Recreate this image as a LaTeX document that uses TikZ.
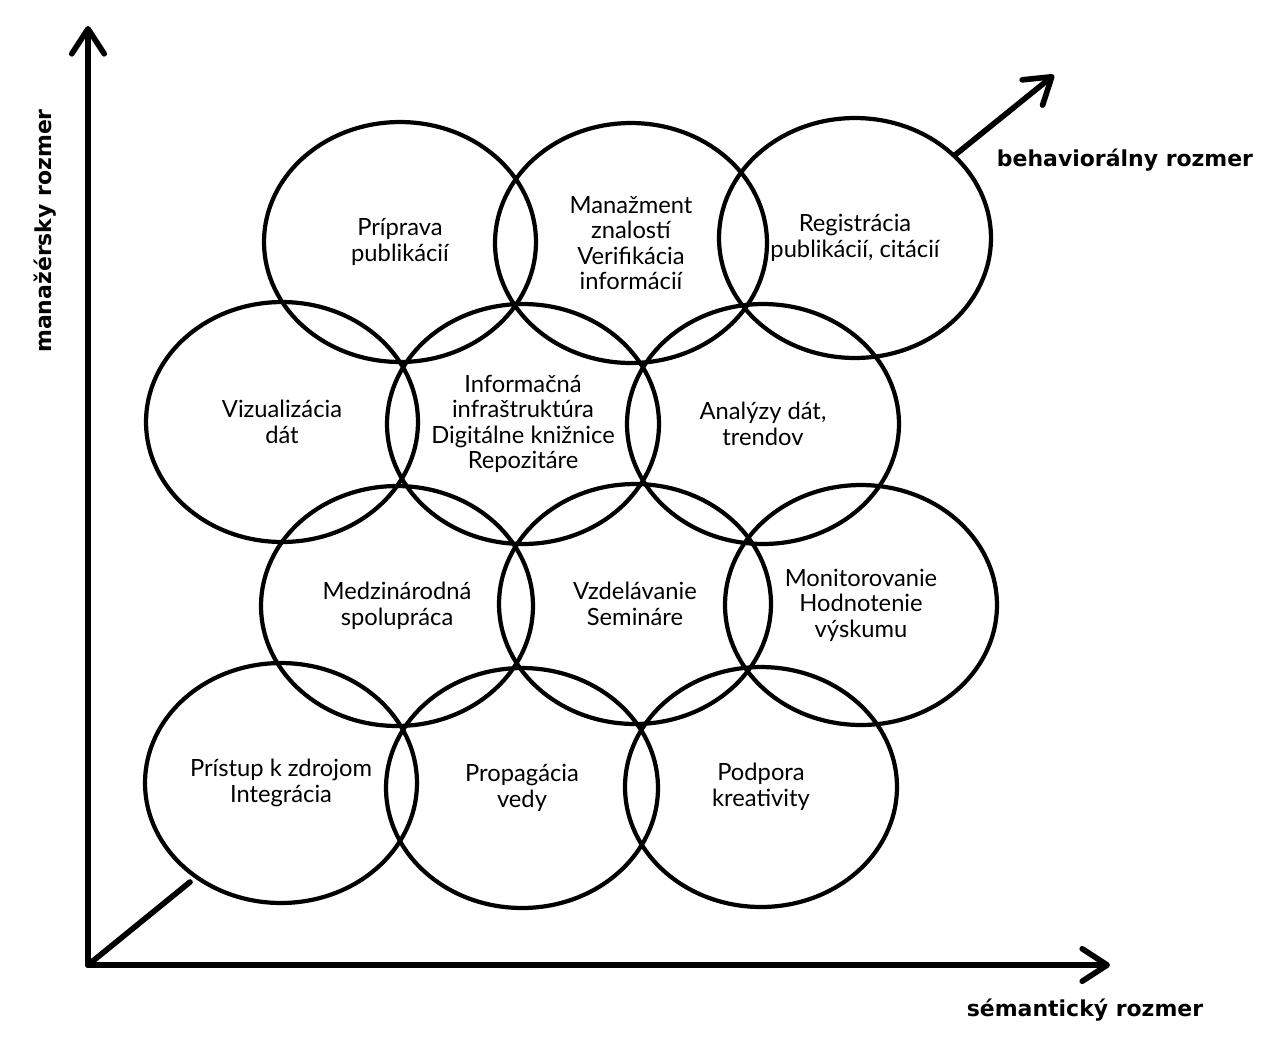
\documentclass[tikz,border=0pt]{standalone}
\usepackage{fontspec}
\setmainfont{Lato}
\newfontfamily\axisfont{DejaVu Sans}
\usetikzlibrary{shapes.geometric,arrows.meta}

\tikzset{
  oblast/.style={ellipse, draw, line width=2.4pt, inner sep=0pt,
    minimum width=5.44cm, minimum height=4.80cm,
    align=center, font=\fontsize{13.5}{14.5}\selectfont},
  os/.style={line width=3.2pt, line cap=round,
    -{Straight Barb[length=5mm, width=6.5mm, round]}},
  popis/.style={font=\axisfont\bfseries\fontsize{12.5}{14}\selectfont}
}

\begin{document}
\begin{tikzpicture}[x=0.02cm, y=-0.02cm]
            \useasboundingbox (0,0) rectangle (1275,1046);

            \coordinate (O) at (88,965);
            \coordinate (Y) at (88,26);
            \coordinate (X) at (1110,965);
            \coordinate (B1) at (190,882);
            \coordinate (B2) at (955,155);
            \coordinate (B) at (1054,75);

            \node[oblast] (priprava) at (400,242) {Príprava\\publikácií};
            \node[oblast] (manazment) at (631,243) {Manažment\\znalostí\\Verifikácia\\informácií};
            \node[oblast] (registracia) at (855,238) {Registrácia\\publikácií, citácií};

            \node[oblast] (vizualizacia) at (282,422) {Vizualizácia\\dát};
            \node[oblast] (infra) at (523,424) {Informačná\\infraštruktúra\\Digitálne knižnice\\Repozitáre};
            \node[oblast] (analyzy) at (763,424) {Analýzy dát,\\trendov};

            \node[oblast] (medzinarodna) at (397,606) {Medzinárodná\\spolupráca};
            \node[oblast] (vzdelavanie) at (635,604) {Vzdelávanie\\Semináre};
            \node[oblast] (monitorovanie) at (861,605) {Monitorovanie\\Hodnotenie\\výskumu};

            \node[oblast] (pristup) at (281,783) {Prístup k zdrojom\\Integrácia};
            \node[oblast] (propagacia) at (522,788) {Propagácia\\vedy};
            \node[oblast] (podpora) at (761,787) {Podpora\\kreativity};

            \draw[os] (O) -- (Y);
            \draw[os] (O) -- (X);
            \draw[line width=3.2pt, line cap=round] (O) -- (B1);
            \draw[os] (B2) -- (B);

            \node[popis, rotate=90] (manazersky) at (45,231) {manažérsky rozmer};
            \node[popis] (semanticky) at (1085,1010) {sémantický rozmer};
            \node[popis] (behavioralny) at (1125,160) {behaviorálny rozmer};
        \end{tikzpicture}
\end{document}
